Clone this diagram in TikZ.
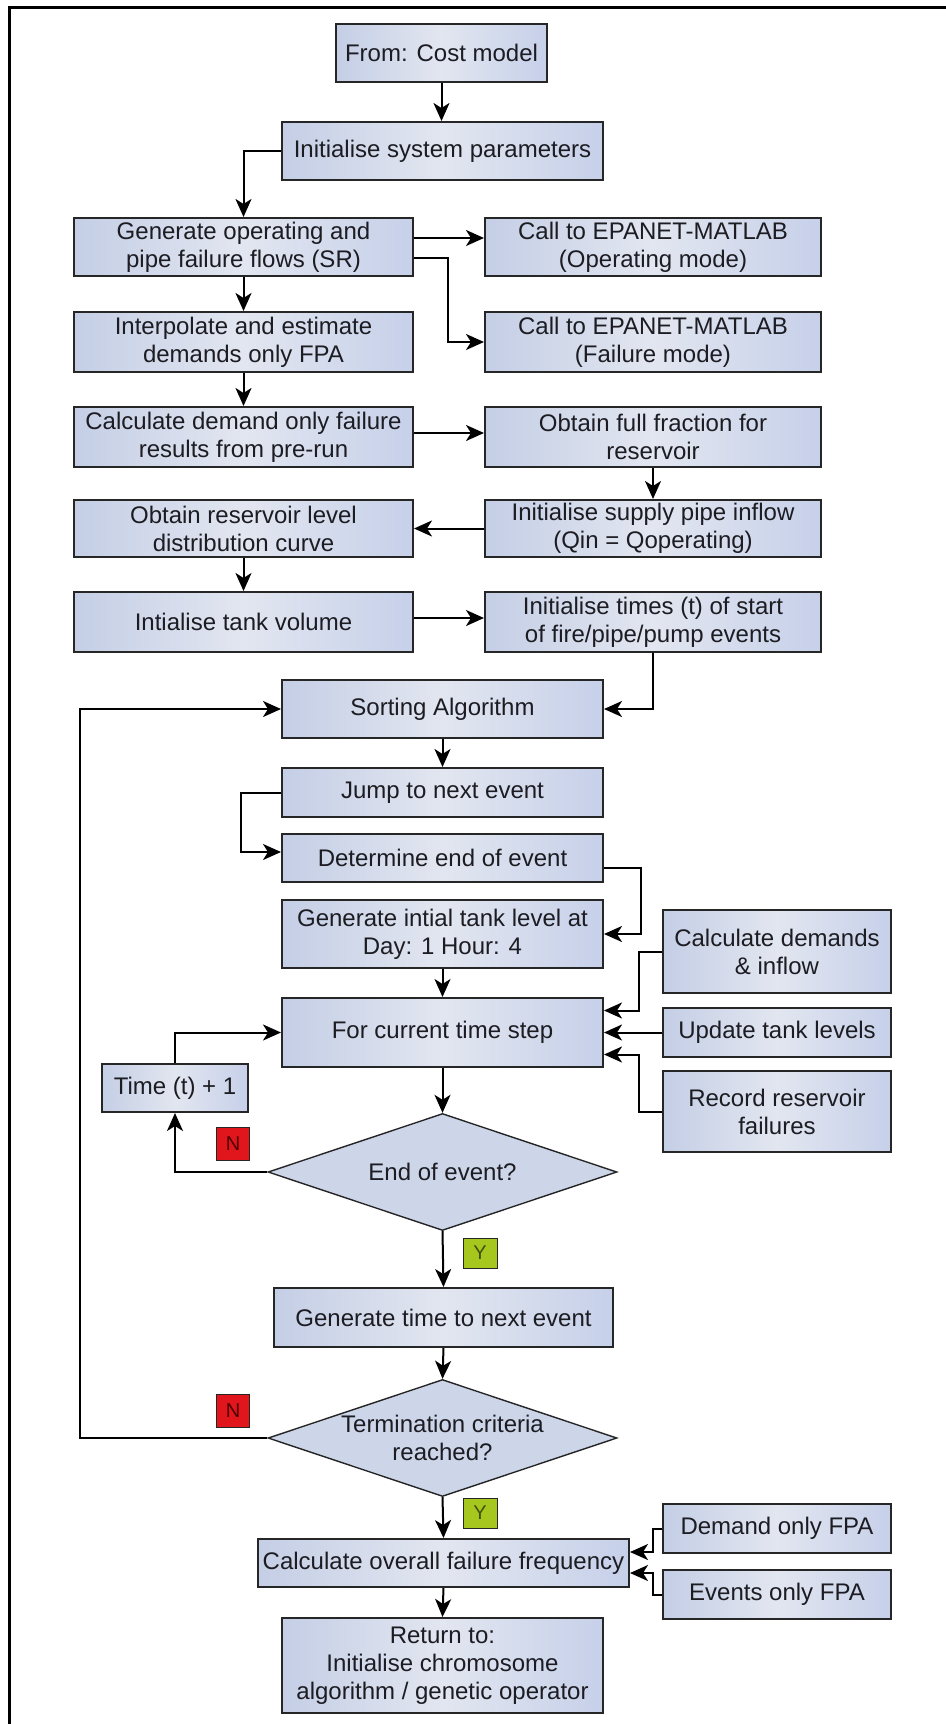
\documentclass[tikz,border=0pt]{standalone}
\usepackage{fontspec}
\setmainfont{Liberation Sans}
\usetikzlibrary{arrows.meta,shapes.geometric}
\definecolor{boxL}{HTML}{C4CEE5}
\definecolor{boxM}{HTML}{E2E6F0}
\definecolor{boxR}{HTML}{C6D0E9}
\definecolor{edgec}{HTML}{262626}
\definecolor{txtc}{HTML}{1C1C22}
\definecolor{diaF}{HTML}{CDD6E9}
\definecolor{nred}{HTML}{E0161C}
\definecolor{ygreen}{HTML}{A6C71E}
\begin{document}
\begin{tikzpicture}[x=1pt,y=-1pt,
  font=\fontsize{24}{28}\selectfont,
  box/.style={draw=edgec, line width=2pt, left color=boxL, right color=boxR, middle color=boxM,
    align=center, text=txtc, inner sep=1pt},
  dia/.style={diamond, draw=edgec, line width=1.4pt, fill=diaF, inner sep=0pt,
    minimum width=349pt, minimum height=117pt},
  arr/.style={draw=black, line width=2pt, -{Stealth[length=18pt,width=16pt,inset=5pt]}},
  nlab/.style={draw=edgec, line width=0.8pt, fill=nred, text=black!70!red, minimum width=33pt,
    minimum height=33pt, inner sep=0pt, font=\fontsize{20}{20}\selectfont},
  ylab/.style={draw=edgec, line width=0.8pt, fill=ygreen, text=black!60!ygreen, minimum width=34pt,
    minimum height=30pt, inner sep=0pt, font=\fontsize{20}{20}\selectfont}]
\useasboundingbox (0,0) rectangle (945,1724);
\fill[white] (0,0) rectangle (945,1724);
% frame
\draw[line width=3pt] (9,1726) -- (9,7) -- (947,7);

% nodes
\node[box, minimum width=211pt, minimum height=58pt] (from) at (441.5,53) {From: Cost model};
\node[box, minimum width=321pt, minimum height=58pt] (init) at (442.5,151) {Initialise system parameters};
\node[box, minimum width=339pt, minimum height=58pt] (gen) at (243.5,247) {Generate operating and\\pipe failure flows (SR)};
\node[box, minimum width=336pt, minimum height=58pt] (callop) at (653,247) {Call to EPANET-MATLAB\\(Operating mode)};
\node[box, minimum width=339pt, minimum height=60pt] (interp) at (243.5,342) {Interpolate and estimate\\demands only FPA};
\node[box, minimum width=336pt, minimum height=60pt] (callfail) at (653,342) {Call to EPANET-MATLAB\\(Failure mode)};
\node[box, minimum width=339pt, minimum height=60pt] (calcdem) at (243.5,437) {Calculate demand only failure\\results from pre-run};
\node[box, minimum width=336pt, minimum height=60pt] (fullfrac) at (653,437) {Obtain full fraction for\\reservoir};
\node[box, minimum width=339pt, minimum height=57pt] (obtres) at (243.5,528.5) {Obtain reservoir level\\distribution curve};
\node[box, minimum width=336pt, minimum height=57pt] (initsup) at (653,528.5) {Initialise supply pipe inflow\\(Qin = Qoperating)};
\node[box, minimum width=339pt, minimum height=60pt] (inittank) at (243.5,622) {Intialise tank volume};
\node[box, minimum width=336pt, minimum height=60pt] (inittimes) at (653,622) {Initialise times (t) of start\\of fire/pipe/pump events};
\node[box, minimum width=321pt, minimum height=58pt] (sort) at (442.5,709) {Sorting Algorithm};
\node[box, minimum width=321pt, minimum height=49pt] (jump) at (442.5,792.5) {Jump to next event};
\node[box, minimum width=321pt, minimum height=48pt] (determine) at (442.5,858) {Determine end of event};
\node[box, minimum width=321pt, minimum height=68pt] (geninit) at (442.5,934) {Generate intial tank level at\\Day: 1 Hour: 4};
\node[box, minimum width=321pt, minimum height=69pt] (forcur) at (442.5,1032.5) {For current time step};
\node[box, minimum width=228pt, minimum height=83pt] (calcdemands) at (777,951.5) {Calculate demands\\\& inflow};
\node[box, minimum width=228pt, minimum height=49pt] (updtank) at (777,1032.5) {Update tank levels};
\node[box, minimum width=228pt, minimum height=81pt] (record) at (777,1111.5) {Record reservoir\\failures};
\node[box, minimum width=146pt, minimum height=48pt] (time) at (175,1088) {Time (t) + 1};
\node[dia, label={[align=center, text=txtc]center:End of event?}] (d1) at (442.5,1172) {};
\node[box, minimum width=339pt, minimum height=59pt] (gentime) at (443.5,1317.5) {Generate time to next event};
\node[dia, label={[align=center, text=txtc]center:Termination criteria\\reached?}] (d2) at (442.5,1438) {};
\node[box, minimum width=371pt, minimum height=48pt] (calcov) at (443.5,1563) {Calculate overall failure frequency};
\node[box, minimum width=228pt, minimum height=49pt] (demfpa) at (777,1528.5) {Demand only FPA};
\node[box, minimum width=228pt, minimum height=49pt] (evfpa) at (777,1594.5) {Events only FPA};
\node[box, minimum width=321pt, minimum height=95pt] (ret) at (442.5,1665.5) {Return to:\\Initialise chromosome\\algorithm / genetic operator};

% decision labels
\node[nlab] (n1) at (233,1144) {N};
\node[nlab] (n2) at (233,1411) {N};
\node[ylab] (y1) at (480,1253) {Y};
\node[ylab] (y2) at (480,1513) {Y};

% connectors
\draw[arr] (from.south) -- (from.south |- init.north);
\draw[arr] (init.west) -| (gen.north);
\draw[arr] ([yshift=9pt]gen.east) -- ([yshift=9pt]callop.west);
\draw[arr] ([yshift=-11pt]gen.east) -- ++(34,0) |- (callfail.west);
\draw[arr] (gen.south) -- (interp.north);
\draw[arr] (interp.south) -- (calcdem.north);
\draw[arr] ([yshift=4pt]calcdem.east) -- ([yshift=4pt]fullfrac.west);
\draw[arr] (fullfrac.south) -- (initsup.north);
\draw[arr] (initsup.west) -- (obtres.east);
\draw[arr] (obtres.south) -- (inittank.north);
\draw[arr] ([yshift=4pt]inittank.east) -- ([yshift=4pt]inittimes.west);
\draw[arr] (inittimes.south) |- (sort.east);
\draw[arr] (sort.south) -- (jump.north);
\draw[arr] (jump.west) -- ++(-40,0) |- ([yshift=6pt]determine.west);
\draw[arr] ([yshift=-10pt]determine.east) -- ++(37,0) |- (geninit.east);
\draw[arr] (geninit.south) -- (forcur.north);
\draw[arr] (calcdemands.west) -- ++(-23,0) |- ([yshift=22pt]forcur.east);
\draw[arr] (updtank.west) -- (forcur.east);
\draw[arr] (record.west) -- ++(-23,0) |- ([yshift=-22pt]forcur.east);
\draw[arr] (forcur.south) -- (d1.north);
\draw[arr] (d1.west) -| (time.south);
\draw[arr] (time.north) |- (forcur.west);
\draw[arr] (d1.south) -- (gentime.north);
\draw[arr] (gentime.south) -- (d2.north);
\draw[arr] (d2.west) -- ++(-187,0) |- (sort.west);
\draw[arr] (d2.south) -- (calcov.north);
\draw[arr] (demfpa.west) -- ++(-9,0) |- ([yshift=11pt]calcov.east);
\draw[arr] (evfpa.west) -- ++(-9,0) |- ([yshift=-10pt]calcov.east);
\draw[arr] (calcov.south) -- (ret.north);
\end{tikzpicture}
\end{document}
